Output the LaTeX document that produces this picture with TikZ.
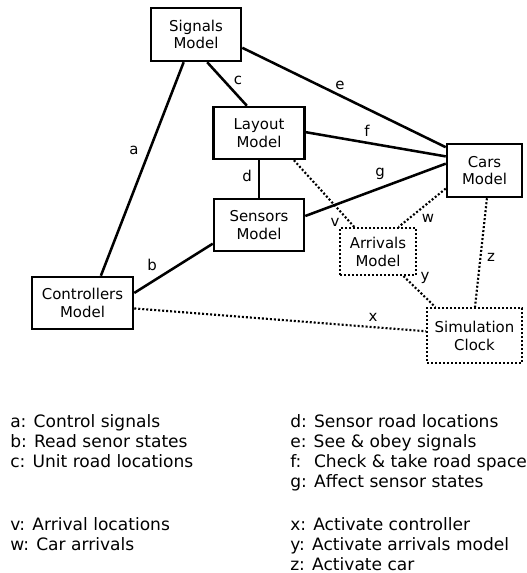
\documentclass[tikz,border=0pt]{standalone}
\usepackage{fontspec}
\setmainfont{DejaVu Sans}

\newcommand{\boxfont}{\fontsize{11.2}{13.4}\selectfont}
\newcommand{\keyfont}{\fontsize{12.8}{15}\selectfont}

\begin{document}
\begin{tikzpicture}[x=0.75pt, y=-0.75pt,
    model/.style={draw, line width=1.9pt, align=center, inner sep=1pt, font=\boxfont},
    dotmodel/.style={model, line width=1.6pt, dash pattern=on 1.5pt off 1.5pt},
    link/.style={line width=1.9pt},
    dotlink/.style={line width=1.6pt, dash pattern=on 1.5pt off 1.5pt},
    key/.style={anchor=base west, inner sep=0pt, font=\keyfont}]
  \useasboundingbox (0,0) rectangle (526,573);

  \node[model, minimum width=67.5pt, minimum height=39.75pt] (sig) at (196,34.5) {Signals\\Model};
  \node[model, minimum width=68.25pt, minimum height=39pt] (lay) at (259,133) {Layout\\Model};
  \node[model, minimum width=67.5pt, minimum height=39pt] (sen) at (259,225) {Sensors\\Model};
  \node[model, minimum width=75.75pt, minimum height=39pt] (ctl) at (82.5,303) {Controllers\\Model};
  \node[model, minimum width=56.25pt, minimum height=39.75pt] (car) at (484.5,170.5) {Cars\\Model};
  \node[dotmodel, minimum width=57pt, minimum height=35.25pt] (arr) at (378,251.5) {Arrivals\\Model};
  \node[dotmodel, minimum width=71.25pt, minimum height=41.25pt] (clk) at (474.5,335.5) {Simulation\\Clock};

  \foreach \from/\to in {sig.246/ctl.56, ctl.11/sen.202, sig.292/lay.114, lay/sen,
                         sig.344/car.149, lay.1/car.160, sen.11/car.170} {
    \draw[link] (\from) -- (\to);
  }
  \foreach \from/\to in {lay.322/arr.134, car.205/arr.50, arr.316/clk.144,
                         car.275/clk.89, ctl.354/clk.175} {
    \draw[dotlink] (\from) -- (\to);
  }

  \foreach \name/\x/\y in {a/134/150, b/152/265, c/238/80, d/247/176, e/340/85, f/367/131,
                           g/380/174, v/335/222, w/428/218, x/373/317, y/425/278, z/491/257} {
    \node[font=\boxfont, inner sep=0pt] (lab-\name) at (\x,\y) {\name};
  }

  % legend
  \foreach \name/\y/\txt in {a/427/Control signals, b/447/Read senor states,
                             c/467/Unit road locations, v/530/Arrival locations,
                             w/550/Car arrivals} {
    \node[key] (key-\name) at (10,\y) {\name: \txt};
  }
  \foreach \name/\y/\txt in {d/427/Sensor road locations, e/447/See \& obey signals,
                             f/467/\ Check \& take road space, g/487/Affect sensor states,
                             x/530/Activate controller, y/550/Activate arrivals model,
                             z/570/Activate car} {
    \node[key] (key-\name) at (290,\y) {\name: \txt};
  }

\end{tikzpicture}
\end{document}
